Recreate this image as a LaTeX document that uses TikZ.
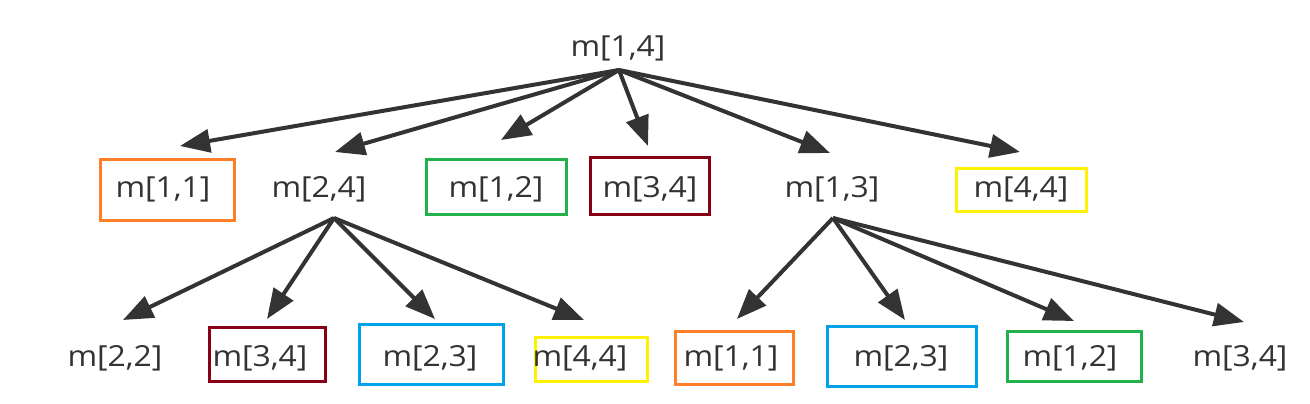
\documentclass[tikz,border=0pt]{standalone}
\usepackage{fontspec}
\setmainfont[FakeStretch=1.10]{Open Sans}
\usetikzlibrary{arrows.meta}
\definecolor{ink}{HTML}{333333}
\definecolor{corange}{HTML}{FF7F27}
\definecolor{cgreen}{HTML}{22B14C}
\definecolor{cdred}{HTML}{880015}
\definecolor{cblue}{HTML}{00A2E8}
\definecolor{cyellow}{HTML}{FFF200}
\begin{document}
\begin{tikzpicture}[x=1pt,y=-1pt,
  lbl/.style={anchor=base, inner sep=0pt, text=ink, font=\fontsize{29}{32}\selectfont},
  frame/.style={draw=#1, line width=3pt, inner sep=0pt},
  edge/.style={draw=ink, line width=4pt, -{Triangle[length=30pt,width=23pt]}}]
\useasboundingbox[fill=white] (0,0) rectangle (1310,404);

% frames (level 1)
\node[frame=corange, minimum width=134pt, minimum height=61pt] (f1a) at (167.5,190) {};
\node[frame=cgreen,  minimum width=140pt, minimum height=55pt] (f1c) at (496.5,187) {};
\node[frame=cdred,   minimum width=119pt, minimum height=57pt] (f1d) at (650,186) {};
\node[frame=cyellow, minimum width=130pt, minimum height=43pt] (f1f) at (1021.5,190) {};
% frames (level 2)
\node[frame=cdred,   minimum width=116pt, minimum height=54pt] (f2b) at (267.5,354.5) {};
\node[frame=cblue,   minimum width=144pt, minimum height=60pt] (f2c) at (431.5,354.5) {};
\node[frame=cyellow, minimum width=112pt, minimum height=44pt] (f2d) at (591.5,359.5) {};
\node[frame=corange, minimum width=118pt, minimum height=53pt] (f2e) at (734.5,358) {};
\node[frame=cblue,   minimum width=149pt, minimum height=60pt] (f2f) at (902,356.5) {};
\node[frame=cgreen,  minimum width=134pt, minimum height=50pt] (f2g) at (1074.5,356.5) {};

% labels
\node[lbl] (root) at (618,57) {m[1,4]};
\node[lbl] (a11) at (163,197.5) {m[1,1]};
\node[lbl] (a24) at (319,197.5) {m[2,4]};
\node[lbl] (a12) at (496,197.5) {m[1,2]};
\node[lbl] (a34) at (650,197.5) {m[3,4]};
\node[lbl] (a13) at (832,197.5) {m[1,3]};
\node[lbl] (a44) at (1021,197.5) {m[4,4]};

\node[lbl] (b22) at (115,366.5) {m[2,2]};
\node[lbl] (b34) at (260,366.5) {m[3,4]};
\node[lbl] (b23) at (430,366.5) {m[2,3]};
\node[lbl] (b44) at (580,366.5) {m[4,4]};
\node[lbl] (c11) at (731,366.5) {m[1,1]};
\node[lbl] (c23) at (901,366.5) {m[2,3]};
\node[lbl] (c12) at (1070,366.5) {m[1,2]};
\node[lbl] (c34) at (1240,366.5) {m[3,4]};

% connector end points
\coordinate (s0) at (619,70);
\coordinate (s1) at (334,218);
\coordinate (s2) at (833,218);
\coordinate (t11) at (180,146);
\coordinate (t24) at (335,152);
\coordinate (t12) at (501,140);
\coordinate (t34) at (648,146);
\coordinate (t13) at (830,153);
\coordinate (t44) at (1020,152);
\coordinate (u22) at (123,320);
\coordinate (u34) at (267,319);
\coordinate (u23) at (435,319);
\coordinate (u44) at (584,320);
\coordinate (v11) at (737,319);
\coordinate (v23) at (905,320);
\coordinate (v12) at (1074,321);
\coordinate (v34) at (1244,322);

% connectors
\foreach \t in {t11,t24,t12,t34,t13,t44} \draw[edge] (s0) -- (\t);
\foreach \t in {u22,u34,u23,u44} \draw[edge] (s1) -- (\t);
\foreach \t in {v11,v23,v12,v34} \draw[edge] (s2) -- (\t);
\end{tikzpicture}
\end{document}
